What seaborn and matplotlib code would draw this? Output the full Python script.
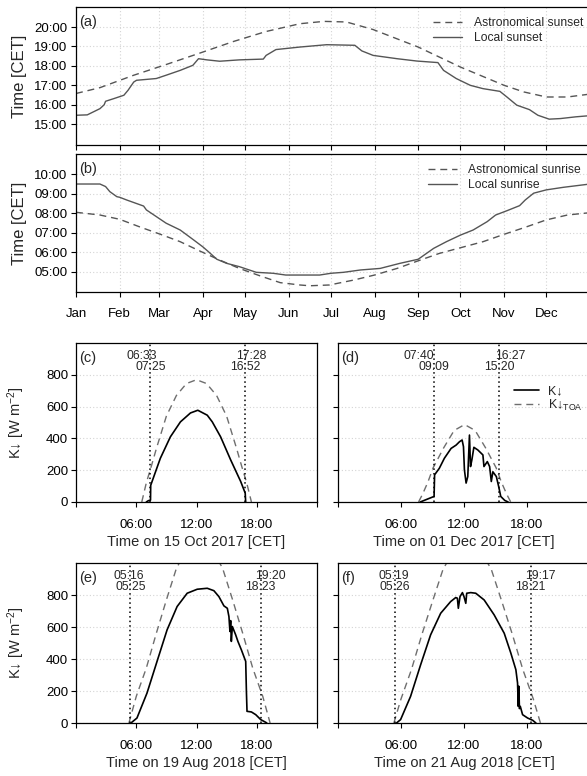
import numpy as np
import pandas as pd
import matplotlib
matplotlib.use("Agg")
import matplotlib.pyplot as plt
import seaborn as sns
from matplotlib.lines import Line2D

sns.set_theme(style="ticks")
plt.rcParams['font.family'] = ['Liberation Sans', 'DejaVu Sans']
plt.rcParams['mathtext.fontset'] = 'custom'
plt.rcParams['mathtext.rm'] = 'Liberation Sans'
plt.rcParams['mathtext.it'] = 'Liberation Sans:italic'
plt.rcParams['mathtext.bf'] = 'Liberation Sans:bold'

# ---------------- data: annual panels (day of year, hour CET) ----------------
month_labels = ['Jan', 'Feb', 'Mar', 'Apr', 'May', 'Jun', 'Jul', 'Aug', 'Sep', 'Oct', 'Nov', 'Dec']
month_starts = [0, 31, 59, 90, 120, 151, 181, 212, 243, 273, 304, 334]

sunset_astro_day = [0, 17, 41, 64, 88, 112, 135, 159, 176, 192, 211, 243, 273, 304, 318, 334, 349, 365]
sunset_astro_hr = [16.58, 16.88, 17.52, 18.07, 18.66, 19.26, 19.77, 20.17, 20.29, 20.26, 19.87, 18.97,
                   17.94, 17.00, 16.66, 16.40, 16.40, 16.55]

sunset_local_day = [0, 8, 17, 20, 21, 27, 34, 37, 41, 43, 57, 64, 74, 83, 87, 93, 102, 116, 133, 135,
                    142, 159, 178, 198, 203, 211, 228, 242, 257, 261, 270, 280, 289, 301, 306, 313,
                    322, 328, 336, 344, 355, 365]
sunset_local_hr = [15.46, 15.48, 15.80, 16.00, 16.18, 16.32, 16.49, 16.75, 17.17, 17.26, 17.35, 17.52,
                   17.77, 18.03, 18.37, 18.31, 18.24, 18.31, 18.35, 18.54, 18.84, 18.97, 19.09, 19.06,
                   18.77, 18.54, 18.37, 18.25, 18.17, 17.77, 17.35, 17.00, 16.83, 16.69, 16.40, 15.98,
                   15.75, 15.46, 15.26, 15.29, 15.38, 15.44]

sunrise_astro_day = [0, 17, 31, 46, 60, 74, 88, 102, 116, 131, 145, 159, 166, 180, 197, 212, 228, 243,
                     258, 273, 289, 304, 319, 334, 349, 365]
sunrise_astro_hr = [8.05, 7.91, 7.69, 7.28, 6.92, 6.54, 6.06, 5.60, 5.17, 4.78, 4.44, 4.32, 4.28, 4.32,
                    4.57, 4.83, 5.17, 5.56, 5.94, 6.23, 6.54, 6.92, 7.28, 7.66, 7.91, 8.03]

sunrise_local_day = [0, 17, 21, 24, 29, 31, 36, 48, 50, 57, 64, 74, 83, 90, 94, 100, 107, 116, 128,
                     140, 149, 173, 181, 190, 202, 216, 230, 243, 254, 263, 273, 282, 292, 298, 306,
                     315, 319, 325, 334, 346, 365]
sunrise_local_hr = [9.50, 9.50, 9.37, 9.11, 8.85, 8.82, 8.68, 8.37, 8.17, 7.83, 7.49, 7.14, 6.66, 6.28,
                    6.03, 5.64, 5.43, 5.26, 4.97, 4.92, 4.83, 4.83, 4.92, 4.97, 5.09, 5.17, 5.43, 5.64,
                    6.20, 6.54, 6.88, 7.14, 7.57, 7.91, 8.13, 8.39, 8.68, 9.03, 9.20, 9.33, 9.50]

# ---------------- data: daily panels (hour CET, W m-2) ----------------
# event times: astronomical sunrise, local sunrise, astronomical sunset, local sunset
c_times = ['06:33', '07:25', '17:28', '16:52']
c_k_hr = [7.0, 7.2, 7.42, 7.44, 8.4, 9.4, 10.4, 11.4, 12.13, 13.07, 13.57, 14.4, 15.4, 16.4, 16.85, 16.88, 16.9]
c_k_val = [0, 8, 12, 105, 275, 410, 504, 560, 577, 546, 504, 410, 265, 129, 56, 20, 0]
c_toa_hr = [6.55, 7.0, 7.5, 8.0, 9.0, 10.0, 11.0, 12.0, 13.0, 14.0, 15.0, 16.0, 16.5, 17.0, 17.47]
c_toa_val = [0, 120, 225, 335, 540, 670, 745, 769, 745, 670, 540, 335, 225, 120, 0]

d_times = ['07:40', '09:09', '16:27', '15:20']
d_k_hr = [7.83, 9.15, 9.2, 9.65, 10.13, 10.77, 11.25, 11.57, 11.82, 11.95, 12.04, 12.2, 12.36, 12.52,
          12.62, 12.75, 12.94, 13.32, 13.8, 13.9, 14.22, 14.44, 14.6, 14.75, 15.08, 15.3, 15.5, 15.88, 16.2]
d_k_val = [0, 35, 171, 212, 275, 337, 358, 379, 390, 348, 202, 119, 160, 421, 223, 265, 344, 327, 296,
           223, 254, 223, 129, 190, 160, 98, 35, 10, 0]
d_toa_hr = [7.67, 8.06, 8.56, 9.06, 10.06, 11.06, 12.06, 13.06, 14.06, 15.06, 15.56, 16.06, 16.45]
d_toa_val = [0, 50, 125, 215, 340, 450, 487, 450, 340, 215, 125, 50, 0]

e_times = ['05:16', '05:25', '19:20', '18:23']
e_k_hr = [5.47, 6.07, 7.07, 8.07, 9.07, 10.07, 11.07, 12.07, 13.07, 13.73, 14.23, 14.73, 15.07, 15.23,
          15.33, 15.4, 15.47, 15.57, 15.9, 16.13, 16.47, 16.9, 16.97, 17.03, 17.47, 17.9, 18.4, 18.9, 19.0]
e_k_val = [0, 31, 187, 385, 582, 728, 811, 836, 842, 827, 790, 732, 717, 665, 572, 640, 510, 603, 551,
           509, 457, 385, 198, 73, 69, 52, 21, 4, 0]
e_toa_hr = [5.27, 6.0, 7.0, 8.0, 9.0, 10.0, 11.0, 12.3, 13.6, 14.6, 15.6, 16.6, 17.6, 18.6, 19.33]
e_toa_val = [0, 166, 343, 561, 769, 967, 1080, 1130, 1080, 967, 769, 561, 343, 166, 0]

f_times = ['05:19', '05:26', '19:17', '18:21']
f_k_hr = [5.57, 5.96, 6.91, 7.87, 8.82, 9.78, 10.73, 11.21, 11.37, 11.46, 11.62, 11.85, 12.0, 12.17,
          12.26, 12.64, 13.12, 13.92, 14.87, 15.83, 16.46, 16.94, 17.1, 17.17, 17.22, 17.28, 17.36,
          17.58, 18.06, 18.54, 18.85]
f_k_val = [0, 21, 166, 364, 551, 686, 759, 784, 780, 717, 790, 815, 790, 748, 811, 815, 811, 769, 676,
           561, 437, 333, 250, 104, 230, 90, 104, 52, 31, 17, 0]
f_toa_hr = [5.32, 6.0, 7.0, 8.0, 9.0, 10.0, 11.0, 12.3, 13.6, 14.6, 15.6, 16.6, 17.6, 18.6, 19.28]
f_toa_val = [0, 150, 335, 555, 760, 960, 1075, 1125, 1075, 960, 760, 555, 335, 150, 0]

day_xlabels = ['Time on 15 Oct 2017 [CET]', 'Time on 01 Dec 2017 [CET]',
               'Time on 19 Aug 2018 [CET]', 'Time on 21 Aug 2018 [CET]']
panel_tags = ['(a)', '(b)', '(c)', '(d)', '(e)', '(f)']
hour_ticks = [0, 6, 12, 18, 24]
hour_ticklabels = ['', '06:00', '12:00', '18:00', '']
k_ticks = [0, 200, 400, 600, 800]

# ---------------- figure ----------------
W, H = 587, 776
fig = plt.figure(figsize=(W / 100, H / 100), dpi=100)


def px_axes(l, t, r, b):
    return fig.add_axes([l / W, 1 - b / H, (r - l) / W, (b - t) / H])


GRID = '#d4d4d4'
LINEC = '#555555'
DASH = (0, (5, 3.5))
DOT = (0, (1, 2))


def style(ax):
    for s in ax.spines.values():
        s.set_visible(True)
        s.set_color('black')
        s.set_linewidth(0.9)
    ax.tick_params(direction='out', length=3.6, width=0.8, colors='black', labelsize=9.5)
    ax.set_facecolor('white')


axa = px_axes(76, 7, 590, 145)
axb = px_axes(76, 154, 590, 292)

for ax, ad, ah, ld, lh, lab_a, lab_l, yt, leg_anchor in [
        (axa, sunset_astro_day, sunset_astro_hr, sunset_local_day, sunset_local_hr,
         'Astronomical sunset', 'Local sunset', [15, 16, 17, 18, 19, 20], (0.695, 0.925)),
        (axb, sunrise_astro_day, sunrise_astro_hr, sunrise_local_day, sunrise_local_hr,
         'Astronomical sunrise', 'Local sunrise', [5, 6, 7, 8, 9, 10], (0.684, 0.925))]:
    style(ax)
    ax.set_axisbelow(True)
    ax.grid(True, color=GRID, linestyle=DOT, linewidth=0.8)
    sns.lineplot(x=ad, y=ah, ax=ax, color=LINEC, linestyle=DASH, linewidth=1.0,
                 estimator=None, sort=False, legend=False)
    sns.lineplot(x=ld, y=lh, ax=ax, color=LINEC, linewidth=1.0,
                 estimator=None, sort=False, legend=False)
    ax.set_xlim(0, 365)
    ax.set_xticks(month_starts)
    ax.set_yticks(yt)
    ax.set_yticklabels([f'{h:02d}:00' for h in yt])
    ax.set_ylabel('Time [CET]', fontsize=12)
    ax.yaxis.set_label_coords(-0.095, 0.5)
    ax.set_xlabel('')
    handles = [Line2D([], [], color=LINEC, linestyle=DASH, linewidth=1.0),
               Line2D([], [], color=LINEC, linewidth=1.0)]
    ax.legend(handles, [lab_a, lab_l], frameon=False, fontsize=8.7, loc='upper left',
              bbox_to_anchor=leg_anchor,
              borderpad=0, borderaxespad=0, handlelength=2.4, handletextpad=0.95,
              labelspacing=0.2)

axa.set_ylim(13.93, 21.03)
axb.set_ylim(3.96, 11.04)
axa.tick_params(axis='x', labelbottom=False)
axb.set_xticklabels(month_labels)
axb.tick_params(axis='x', pad=8)
axa.tick_params(axis='y', pad=2.5)
axb.tick_params(axis='y', pad=2.5)

axc = px_axes(76, 343, 317, 502)
axd = px_axes(338, 343, 590, 502)
axe = px_axes(76, 563, 317, 723)
axf = px_axes(338, 563, 590, 723)


def hrs(s):
    h, m = s.split(':')
    return int(h) + int(m) / 60.0


day_sets = [
    (axc, c_times, c_k_hr, c_k_val, c_toa_hr, c_toa_val),
    (axd, d_times, d_k_hr, d_k_val, d_toa_hr, d_toa_val),
    (axe, e_times, e_k_hr, e_k_val, e_toa_hr, e_toa_val),
    (axf, f_times, f_k_hr, f_k_val, f_toa_hr, f_toa_val),
]

for i, (ax, times, kh, kv, th, tv) in enumerate(day_sets):
    style(ax)
    ax.set_axisbelow(True)
    ax.grid(True, axis='y', color=GRID, linestyle=DOT, linewidth=0.8)
    ax.grid(False, axis='x')
    sns.lineplot(x=th, y=tv, ax=ax, color='#6e6e6e', linestyle=DASH, linewidth=1.0,
                 estimator=None, sort=False, legend=False)
    sns.lineplot(x=kh, y=kv, ax=ax, color='black', linewidth=1.2,
                 estimator=None, sort=False, legend=False)
    a_rise, l_rise, a_set, l_set = [hrs(t) for t in times]
    ax.axvline(l_rise, color='black', linestyle=DOT, linewidth=1.1)
    ax.axvline(l_set, color='black', linestyle=DOT, linewidth=1.1)
    ax.text(a_rise, 920, times[0], ha='center', va='center', fontsize=8.8)
    ax.text(l_rise, 850, times[1], ha='center', va='center', fontsize=8.8)
    ax.text(a_set, 920, times[2], ha='center', va='center', fontsize=8.8)
    ax.text(l_set, 850, times[3], ha='center', va='center', fontsize=8.8)
    ax.set_xlim(0, 24)
    ax.set_ylim(0, 1000)
    ax.set_xticks(hour_ticks)
    ax.set_xticklabels(hour_ticklabels)
    ax.set_yticks(k_ticks)
    ax.tick_params(axis='x', pad=8.5)
    ax.tick_params(axis='y', pad=2)
    ax.set_xlabel(day_xlabels[i], fontsize=10.5)
    ax.xaxis.set_label_coords(0.5, -0.208)
    if i % 2 == 0:
        ax.set_ylabel('K↓ [W m$^{-2}$]', fontsize=10.5)
        ax.yaxis.set_label_coords(-0.203, 0.5)
    else:
        ax.set_ylabel('')
        ax.tick_params(axis='y', labelleft=False)

handles = [Line2D([], [], color='black', linewidth=1.2),
           Line2D([], [], color='#6e6e6e', linestyle=DASH, linewidth=1.0)]
axd.legend(handles, ['K↓', r'K↓$_\mathregular{TOA}$'], frameon=False, fontsize=9,
           loc='upper left', bbox_to_anchor=(0.70, 0.735), borderpad=0, borderaxespad=0,
           handlelength=2.0, handletextpad=0.7, labelspacing=0.05)

# panel tags
for ax, tag in zip([axa, axb, axc, axd, axe, axf], panel_tags):
    ax.annotate(tag, xy=(0, 1), xycoords='axes fraction', xytext=(2.5, -6),
                textcoords='offset points', ha='left', va='top', fontsize=10.5)

fig.savefig('out.png', dpi=100, facecolor='white')
